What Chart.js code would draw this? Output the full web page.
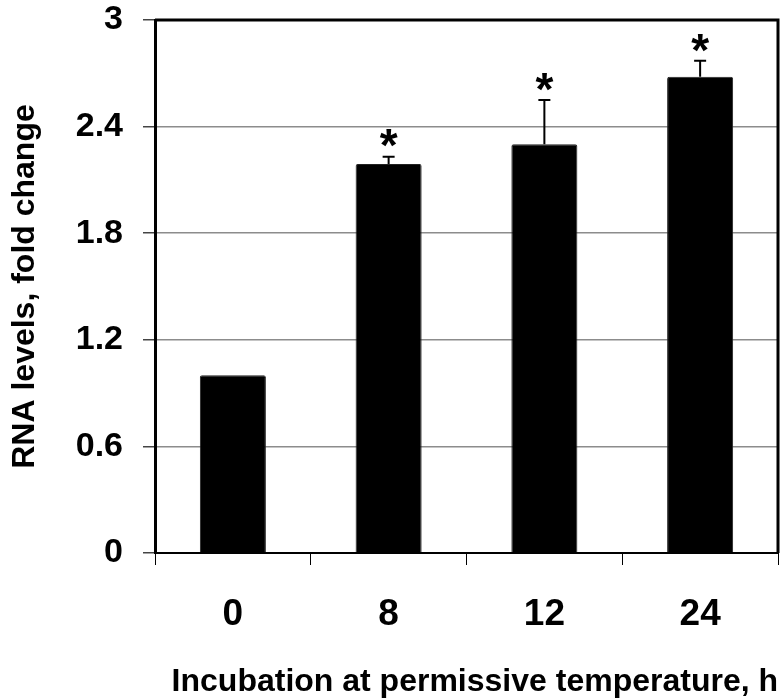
<!DOCTYPE html>
<html>
<head>
<meta charset="utf-8">
<script src="https://cdn.jsdelivr.net/npm/chart.js@4.4.1/dist/chart.umd.min.js"></script>
<style>
  html, body { margin: 0; padding: 0; background: #fff; }
  #wrap { width: 783px; height: 700px; }
</style>
</head>
<body>
<div id="wrap"><canvas id="rna-chart" width="783" height="700"></canvas></div>
<script>
// incubation times (h) and mean RNA fold change
const timePoints = ['0', '8', '12', '24'];
const foldChange = [1.0, 2.19, 2.30, 2.68];
const errorUp = [0, 0.04, 0.25, 0.09];
const significant = [false, true, true, true];
const yTicks = [0, 0.6, 1.2, 1.8, 2.4, 3];

const FONT = '"Liberation Sans", Arial, sans-serif';

// upward error bars plus asterisks for significant points
const errorBars = {
    id: 'errorBars',
    afterDatasetsDraw(chart) {
        const ctx = chart.ctx;
        const meta = chart.getDatasetMeta(0);
        const y = chart.scales.y;
        ctx.save();
        meta.data.forEach((bar, i) => {
            const top = y.getPixelForValue(foldChange[i] + errorUp[i]);
            if (errorUp[i] > 0) {
                ctx.strokeStyle = '#000';
                ctx.lineWidth = 2;
                ctx.beginPath();
                ctx.moveTo(bar.x, bar.y);
                ctx.lineTo(bar.x, top);
                ctx.moveTo(bar.x - 6, top);
                ctx.lineTo(bar.x + 6, top);
                ctx.stroke();
            }
            if (significant[i]) {
                ctx.fillStyle = '#000';
                ctx.font = 'bold 46px ' + FONT;
                ctx.textAlign = 'center';
                ctx.textBaseline = 'middle';
                ctx.fillText('*', bar.x, top - 8);
            }
        });
        ctx.restore();
    }
};

// heavy frame on top and right of the plot
const frame = {
    id: 'frame',
    afterDraw(chart) {
        const { ctx, chartArea: a } = chart;
        ctx.save();
        ctx.strokeStyle = '#000';
        ctx.lineWidth = 3;
        ctx.beginPath();
        ctx.moveTo(a.left, a.top);
        ctx.lineTo(a.right, a.top);
        ctx.lineTo(a.right, a.bottom);
        ctx.stroke();
        ctx.restore();
    }
};

new Chart(document.getElementById('rna-chart'), {
    type: 'bar',
    data: {
        labels: timePoints,
        datasets: [{
            data: foldChange,
            backgroundColor: '#000',
            borderColor: '#222',
            borderWidth: 1,
            borderRadius: 2,
            barPercentage: 0.424,
            categoryPercentage: 1.0
        }]
    },
    options: {
        responsive: false,
        animation: false,
        layout: { padding: { top: 0, right: 5, left: 0, bottom: 0 } },
        plugins: {
            legend: { display: false },
            tooltip: { enabled: false }
        },
        scales: {
            x: {
                offset: true,
                grid: {
                    offset: true,
                    drawOnChartArea: false,
                    drawTicks: true,
                    tickLength: 12,
                    tickColor: '#000',
                    lineWidth: 1
                },
                border: { display: true, color: '#000', width: 2 },
                ticks: {
                    color: '#000',
                    padding: 28,
                    font: { family: FONT, size: 37, weight: 'bold' }
                },
                title: {
                    display: true,
                    align: 'end',
                    text: 'Incubation at permissive temperature, h',
                    color: '#000',
                    padding: { top: 0, bottom: 0 },
                    font: { family: FONT, size: 32, weight: 'bold', lineHeight: 1.1 }
                },
                afterFit(scale) { scale.height = 147; }
            },
            y: {
                min: 0,
                max: 3,
                afterBuildTicks(scale) {
                    scale.ticks = yTicks.map(v => ({ value: v }));
                },
                grid: {
                    color: '#8c8c8c',
                    lineWidth: 1.5,
                    drawTicks: true,
                    tickLength: 12,
                    tickColor: '#444'
                },
                border: { display: true, color: '#000', width: 3 },
                ticks: {
                    color: '#000',
                    padding: 20,
                    font: { family: FONT, size: 34, weight: 'bold' },
                    callback: v => String(Number(v.toFixed(1)))
                },
                title: {
                    display: true,
                    text: 'RNA levels, fold change',
                    color: '#000',
                    padding: { top: 8, bottom: 0 },
                    font: { family: FONT, size: 32, weight: 'bold', lineHeight: 1.1 }
                },
                afterFit(scale) {
                    scale.width = 155;
                    // tick padding would otherwise push the plot top down
                    scale.paddingTop = 20;
                    scale.paddingBottom = 20;
                }
            }
        }
    },
    plugins: [errorBars, frame]
});
</script>
</body>
</html>
